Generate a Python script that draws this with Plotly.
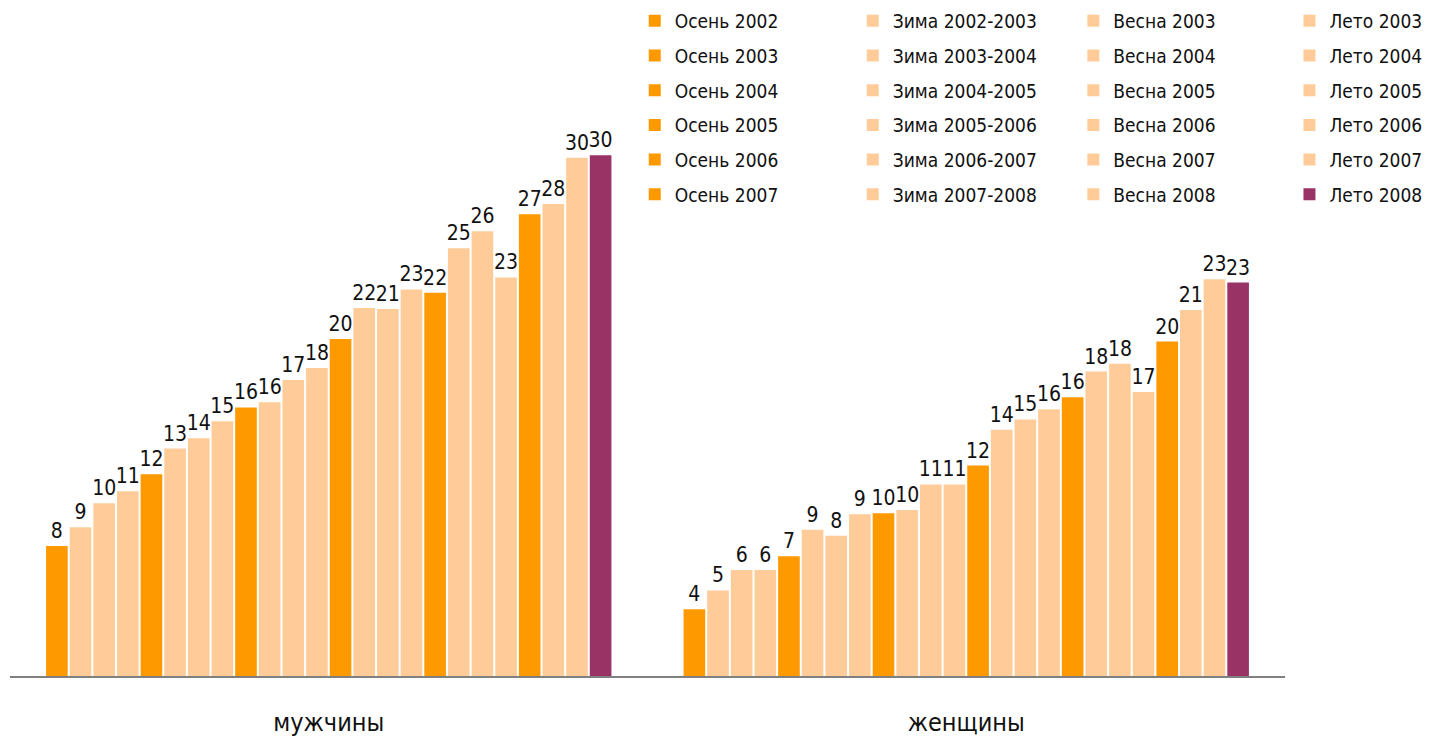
import plotly.graph_objects as go

# Seasons in chronological order (one bar per season in each group)
seasons = [
    'Осень 2002', 'Зима 2002-2003', 'Весна 2003', 'Лето 2003',
    'Осень 2003', 'Зима 2003-2004', 'Весна 2004', 'Лето 2004',
    'Осень 2004', 'Зима 2004-2005', 'Весна 2005', 'Лето 2005',
    'Осень 2005', 'Зима 2005-2006', 'Весна 2006', 'Лето 2006',
    'Осень 2006', 'Зима 2006-2007', 'Весна 2007', 'Лето 2007',
    'Осень 2007', 'Зима 2007-2008', 'Весна 2008', 'Лето 2008',
]
groups = ['мужчины', 'женщины']

men = [7.6, 8.7, 10.1, 10.8, 11.8, 13.3, 13.9, 14.9, 15.7, 16.0, 17.3, 18.0,
       19.7, 21.52, 21.45, 22.6, 22.4, 25.0, 26.0, 23.3, 27.0, 27.6, 30.3, 30.45]
women = [3.9, 5.0, 6.2, 6.2, 7.0, 8.55, 8.2, 9.45, 9.52, 9.7, 11.2, 11.2,
         12.3, 14.4, 15.0, 15.6, 16.3, 17.8, 18.25, 16.6, 19.55, 21.4, 23.2, 23.0]

ORANGE = '#FF9900'
PEACH = '#FFCC99'
PURPLE = '#993366'
FONT = 'DejaVu Sans Condensed, Roboto, sans-serif'

legend_for = {'Осень': 'legend', 'Зима': 'legend2', 'Весна': 'legend3', 'Лето': 'legend4'}

fig = go.Figure()
for i, name in enumerate(seasons):
    kind = name.split()[0]
    if i == len(seasons) - 1:
        color = PURPLE
    elif kind == 'Осень':
        color = ORANGE
    else:
        color = PEACH
    fig.add_trace(go.Bar(
        x=groups,
        y=[men[i], women[i]],
        name=name,
        marker=dict(color=color, line=dict(width=0)),
        texttemplate='%{y:.0f}',
        textposition='outside',
        textfont=dict(family=FONT, size=21, color='#111111'),
        constraintext='none',
        cliponaxis=False,
        legend=legend_for[kind],
        legendgroup=name,
    ))

legend_style = dict(
    font=dict(family=FONT, size=19, color='#111111'),
    bgcolor='rgba(0,0,0,0)',
    tracegroupgap=7,
    xanchor='left',
    yanchor='top',
    y=1.037,
)

# page body has an 8px margin, so the figure is drawn 8px smaller
fig.update_layout(
    width=1424,
    height=731,
    margin=dict(l=2, r=147, t=18, b=63, autoexpand=False),
    paper_bgcolor='white',
    plot_bgcolor='white',
    barmode='group',
    bargap=0.11,
    bargroupgap=0.085,
    showlegend=True,
    legend=dict(x=0.490, **legend_style),
    legend2=dict(x=0.661, **legend_style),
    legend3=dict(x=0.834, **legend_style),
    legend4=dict(x=1.0035, **legend_style),
    xaxis=dict(
        showline=True, linecolor='#808080', linewidth=2,
        ticks='outside', ticklen=23, tickcolor='rgba(0,0,0,0)',
        tickfont=dict(family=FONT, size=25, color='#111111'),
        showgrid=False, automargin=False,
    ),
    yaxis=dict(
        range=[0, 38], visible=False, showgrid=False, zeroline=False,
        automargin=False,
    ),
)

fig.write_html('out.html')
